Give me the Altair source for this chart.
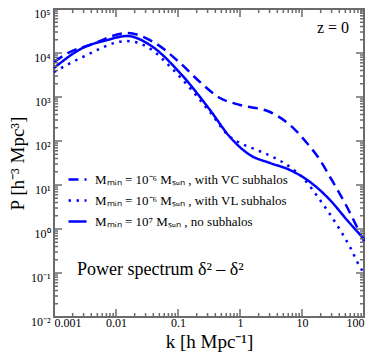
import json
import altair as alt
import pandas as pd

FONT = "Liberation Serif"
BLUE = "#0000ff"
FRAME = "#6b6b6b"
W, H = 310, 308

series_names = [
    "Mₘᵢₙ = 10⁻⁶ Mₛᵤₙ , with VC subhalos",
    "Mₘᵢₙ = 10⁻⁶ Mₛᵤₙ , with VL subhalos",
    "Mₘᵢₙ = 10⁷ Mₛᵤₙ , no subhalos",
]

# k [h/Mpc] and P [h^-3 Mpc^3]
vc_k = [0.001, 0.0018, 0.0038, 0.015, 0.0426, 0.108, 0.226, 0.475, 1.0, 3.05, 6.4, 12.0, 19.5, 28.3, 53.2, 86.1, 100]
vc_p = [6240, 10500, 15200, 28500, 16900, 5930, 2190, 948, 658, 456, 231, 90.2, 37.0, 15.2, 3.16, 0.81, 0.53]

vl_k = [0.001, 0.0029, 0.015, 0.0353, 0.083, 0.328, 0.69, 1.0, 1.88, 3.4, 6.4, 10.4, 19.5, 36.7, 59.4, 86.1, 100]
vl_p = [3700, 8110, 18700, 12600, 4200, 456, 123, 90.2, 62.4, 43.3, 25.6, 14.4, 4.56, 1.23, 0.39, 0.137, 0.10]

ns_k = [0.001, 0.0029, 0.0072, 0.015, 0.0353, 0.108, 0.328, 0.69, 1.45, 3.05, 6.4, 13.5, 28.3, 53.2, 100]
ns_p = [4560, 13000, 19700, 24300, 15200, 3510, 507, 123, 48.1, 31.6, 21.9, 11.7, 4.56, 1.6, 0.59]

x_major = [0.001, 0.01, 0.1, 1, 10, 100]
x_tick_labels = ["0.001", "0.01", "0.1", "1", "10", "100"]
y_major = [1e-2, 1e-1, 1, 10, 100, 1e3, 1e4, 1e5]
y_tick_labels = ["10⁻²", "10⁻¹", "10⁰", "10¹", "10²", "10³", "10⁴", "10⁵"]

x_minor = [m * d for d in [1e-3, 1e-2, 1e-1, 1, 10] for m in range(2, 10)]
y_minor = [m * d for d in [1e-2, 1e-1, 1, 10, 100, 1e3, 1e4] for m in range(2, 10)]

ann_text = ["Power spectrum δ² – δ²", "z = 0"]
ann_k = [0.00235, 57.3]
ann_p = [0.117, 37000]

rows = []
for name, ks, ps in zip(series_names, [vc_k, vl_k, ns_k], [vc_p, vl_p, ns_p]):
    for k, p in zip(ks, ps):
        rows.append({"k": k, "P": p, "series": name})
df = pd.DataFrame(rows)
ann = pd.DataFrame({"k": ann_k, "P": ann_p, "text": ann_text})


def xs():
    return alt.Scale(type="log", domain=[1e-3, 1e2], nice=False)


def ys():
    return alt.Scale(type="log", domain=[1e-2, 1e5], nice=False)


x_label_expr = json.dumps(x_tick_labels, ensure_ascii=False) + "[round(log(datum.value)/LN10)+3]"
y_label_expr = json.dumps(y_tick_labels, ensure_ascii=False) + "[round(log(datum.value)/LN10)+2]"

legend = alt.Legend(
    title=None, orient="none", legendX=13, legendY=160, symbolType="stroke",
    symbolSize=324, symbolStrokeWidth=2.5, labelFont=FONT, labelFontSize=13,
    labelColor="black", rowPadding=3, padding=0, labelOffset=7, labelLimit=0,
)

lines = alt.Chart(df).mark_line(strokeWidth=2.5, interpolate="monotone").encode(
    x=alt.X("k:Q", scale=xs(), axis=alt.Axis(
        orient="bottom", values=x_major, labelExpr=x_label_expr, title="k [h Mpc⁻¹]",
        ticks=False, tickSize=0, domain=False, grid=False, labelPadding=0,
        titleY=15, titleBaseline="top",
        labelFontSize=12, titleFontSize=19)),
    y=alt.Y("P:Q", scale=ys(), axis=alt.Axis(
        orient="left", values=y_major, labelExpr=y_label_expr, title="P [h⁻³ Mpc³]",
        ticks=False, tickSize=0, domain=False, grid=False, labelPadding=4, titlePadding=3,
        labelOffset=4, labelFontSize=12, titleFontSize=19)),
    color=alt.Color("series:N", scale=alt.Scale(domain=series_names, range=[BLUE, BLUE, BLUE]), legend=legend),
    strokeDash=alt.StrokeDash("series:N", scale=alt.Scale(domain=series_names, range=[[10, 6], [2.5, 5.5], [1, 0]]), legend=legend),
)

# inward axis ticks, positioned along the axes through the scales
xt_major = pd.DataFrame({"k": x_major})
xt_minor = pd.DataFrame({"k": x_minor})
yt_major = pd.DataFrame({"P": y_major})
yt_minor = pd.DataFrame({"P": y_minor})


def x_ticks(data, y0, y1):
    return alt.Chart(data).mark_rule(color=FRAME, strokeWidth=1.5).encode(
        x=alt.X("k:Q", scale=xs(), axis=None), y=alt.value(y0), y2=alt.value(y1))


def y_ticks(data, x0, x1):
    return alt.Chart(data).mark_rule(color=FRAME, strokeWidth=1.5).encode(
        y=alt.Y("P:Q", scale=ys(), axis=None), x=alt.value(x0), x2=alt.value(x1))


tick_layers = [
    x_ticks(xt_major, H, H - 8), x_ticks(xt_minor, H, H - 4),
    x_ticks(xt_major, 0, 8), x_ticks(xt_minor, 0, 4),
    y_ticks(yt_major, 0, 8), y_ticks(yt_minor, 0, 4),
    y_ticks(yt_major, W, W - 8), y_ticks(yt_minor, W, W - 4),
]

ann_base = alt.Chart(ann)
txt_power = ann_base.transform_filter(alt.datum.text == ann_text[0]).mark_text(
    font=FONT, fontSize=18, align="left", baseline="middle", color="black"
).encode(
    x=alt.X("k:Q", scale=xs(), axis=None),
    y=alt.Y("P:Q", scale=ys(), axis=None),
    text="text:N",
)
txt_z = ann_base.transform_filter(alt.datum.text == ann_text[1]).mark_text(
    font=FONT, fontSize=16, align="right", baseline="middle", color="black"
).encode(
    x=alt.X("k:Q", scale=xs(), axis=None),
    y=alt.Y("P:Q", scale=ys(), axis=None),
    text="text:N",
)

chart = alt.layer(
    lines, *tick_layers, txt_power, txt_z
).resolve_axis(x="independent", y="independent").properties(
    width=W, height=H,
    autosize=alt.AutoSizeParams(type="none"),
    padding={"left": 46, "top": 1, "right": 2, "bottom": 36},
).configure_view(stroke=FRAME, strokeWidth=2).configure_axis(
    labelFont=FONT, titleFont=FONT, labelColor="black", titleColor="black",
    titleFontWeight="normal",
)

chart.save("out.html", embed_options={"renderer": "svg", "actions": False})
